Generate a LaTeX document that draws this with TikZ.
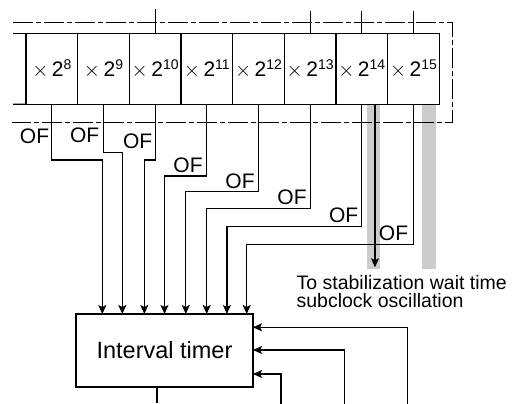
\documentclass[tikz,border=0pt]{standalone}
\usepackage{fontspec}
\setmainfont{Liberation Sans}
\usetikzlibrary{arrows.meta}
\begin{document}
\begin{tikzpicture}[x=1pt,y=-1pt,line width=1.2pt,
  cellbox/.style={draw, minimum width=51.66pt, minimum height=70.8pt, inner sep=0pt, outer sep=0pt, anchor=north west, font=\fontsize{21}{21}\selectfont},
  timerbox/.style={draw, minimum width=177pt, minimum height=73pt, inner sep=0pt, outer sep=0pt, anchor=north west, font=\fontsize{23.5}{24}\selectfont},
  oflabel/.style={font=\fontsize{21}{21}\selectfont, inner sep=0pt},
  notelabel/.style={font=\fontsize{19.5}{18}\selectfont, inner sep=0pt, anchor=base west},
  arr/.style={-{Stealth[length=9pt,width=8pt,inset=2pt]}},
  dashdot/.style={dash pattern=on 20pt off 3pt on 5pt off 3pt, line width=1.3pt},
  graybar/.style={fill=black!20, draw=none}]
\useasboundingbox (0,0) rectangle (514,404);

% gray bars
\fill[graybar] (366.7,104.2) rectangle (380.3,269);
\fill[graybar] (421.8,104.2) rectangle (435.8,269);

% dash-dot enclosure
\draw[dashdot] (13,22.3) -- (452.7,22.3) -- (452.7,122.3) -- (12,122.3);

% cells
\foreach \i [count=\k from 0] in {8,...,15}
  \node[cellbox] (c\i) at (26+\k*51.66,33.4) {$\times$\,2\raisebox{7pt}{\fontsize{14}{14}\selectfont\i}};

% open left continuation
\coordinate (lt) at (13,33.4);
\coordinate (lb) at (13,104.2);
\draw (lt) -- (c8.north west);
\draw (lb) -- (c8.south west);

% ticks on top
\draw (c10.north) -- ++(0,-24);
\draw (c13.north) -- ++(0,-22.5);
\draw (c14.north) -- ++(0,-22.5);
\draw (c15.north) -- ++(0,-22.5);

% interval timer
\node[timerbox] (timer) at (76,314) {Interval timer};

% OF routes
\coordinate (k8) at (102.3,160);
\coordinate (k9) at (122.3,152.3);
\coordinate (k10) at (144.3,160);
\coordinate (k11) at (164.5,176);
\coordinate (k12) at (185.8,191.7);
\coordinate (k13) at (206.7,208.3);
\coordinate (k14) at (226.9,226.7);
\coordinate (k15) at (246.7,244.3);
\foreach \i in {8,...,15}
  \draw[arr] (c\i.south) |- (k\i) -- (k\i |- timer.north);

% OF labels
\node[oflabel] (of8) at (34.5,136) {OF};
\node[oflabel] (of9) at (84.7,135.5) {OF};
\node[oflabel] (of10) at (137.7,141.7) {OF};
\node[oflabel] (of11) at (188,165) {OF};
\node[oflabel] (of12) at (240,181.5) {OF};
\node[oflabel] (of13) at (292,197.5) {OF};
\node[oflabel] (of14) at (343.7,215.5) {OF};
\node[oflabel] (of15) at (393.5,233.3) {OF};

% stabilization arrow
\draw[arr] ([xshift=13.2pt]c14.south) -- ++(0,163);
\node[notelabel] (note1) at (296,289.3) {To stabilization wait time};
\node[notelabel] (note2) at (296,307) {subclock oscillation};

% right-hand inputs
\coordinate (r1) at (407.3,404);
\coordinate (r1b) at (407.3,327.3);
\coordinate (r2) at (344.3,404);
\coordinate (r2b) at (344.3,350);
\coordinate (r3) at (281,404);
\coordinate (r3b) at (281,374);
\draw[arr] (r1) -- (r1b) -- (r1b -| timer.east);
\draw[arr] (r2) -- (r2b) -- (r2b -| timer.east);
\draw[arr] (r3) -- (r3b) -- (r3b -| timer.east);

% bottom output
\draw ([xshift=-7.6pt]timer.south) -- ++(0,15.5);
\end{tikzpicture}
\end{document}
